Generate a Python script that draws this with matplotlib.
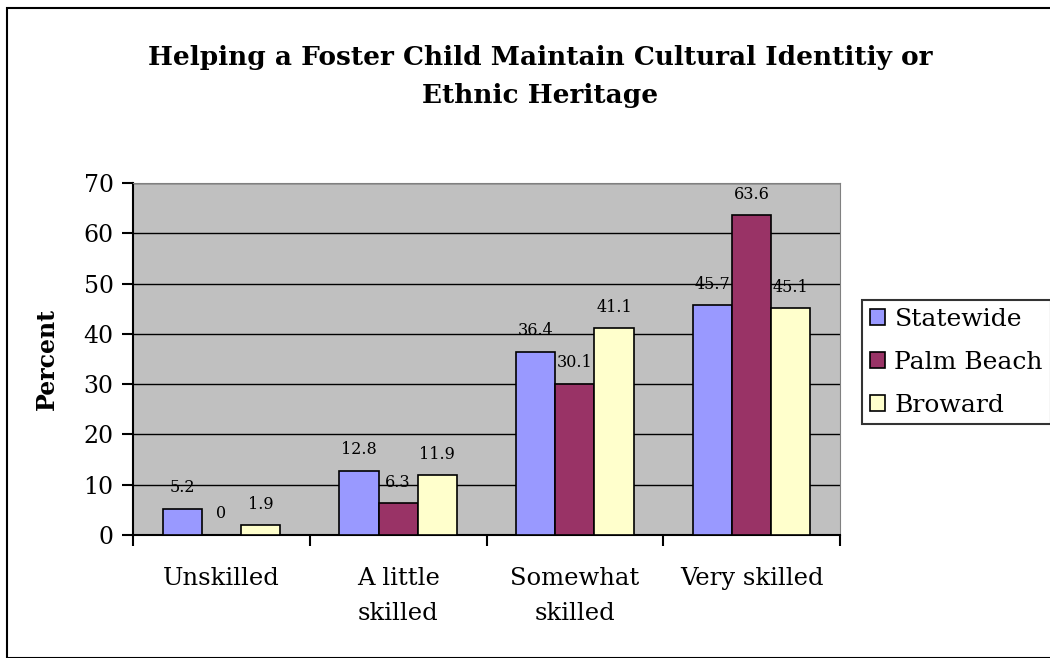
import matplotlib
matplotlib.use("Agg")
import matplotlib.pyplot as plt
import numpy as np
from matplotlib.patches import Rectangle

categories = ["Unskilled", "A little\nskilled", "Somewhat\nskilled", "Very skilled"]
series_names = ["Statewide", "Palm Beach", "Broward"]
statewide = [5.2, 12.8, 36.4, 45.7]
palm_beach = [0, 6.3, 30.1, 63.6]
broward = [1.9, 11.9, 41.1, 45.1]
colors = ["#9999FF", "#993366", "#FFFFCC"]

plt.rcParams['font.family'] = ['DejaVu Serif']

fig = plt.figure(figsize=(10.5, 6.58), dpi=100)
# outer frame of the chart
fig.patches.append(Rectangle((7/1050, 0), 1.0, 1 - 8/658, transform=fig.transFigure,
                             fill=False, edgecolor="black", linewidth=1.5))

ax = fig.add_axes([133/1050, 1 - 535/658, (840 - 133)/1050, (535 - 183)/658])
ax.set_facecolor("#C0C0C0")

x = np.arange(len(categories))
w = 0.222
for i, (vals, name) in enumerate(zip([statewide, palm_beach, broward], series_names)):
    pos = x + (i - 1) * w
    ax.bar(pos, vals, width=w, color=colors[i], edgecolor="black", linewidth=1.2,
           label=name, zorder=3)
    for p, v in zip(pos, vals):
        ax.annotate(f"{v:g}", (p, v), xytext=(0, 9), textcoords="offset points",
                    ha="center", va="bottom", fontsize=11.5, zorder=4)

ax.set_xlim(-0.5, len(categories) - 0.5)
ax.set_ylim(0, 70)
ax.set_yticks(range(0, 71, 10))
ax.yaxis.grid(True, color="black", linewidth=1)
ax.set_axisbelow(True)
ax.set_xticks(np.arange(-0.5, len(categories), 1))
ax.set_xticklabels([])
ax.set_xticks(x, minor=True)
ax.set_xticklabels(categories, minor=True, fontsize=17.5)
ax.tick_params(axis="x", which="minor", length=0, pad=23)
ax.tick_params(axis="x", which="major", length=8, width=1.5, direction="out")
ax.tick_params(axis="y", length=8, width=1.5, direction="out", labelsize=17, pad=6)
for lbl in ax.get_xticklabels(minor=True):
    lbl.set_linespacing(1.65)

ax.spines["left"].set_linewidth(1.5)
ax.spines["bottom"].set_linewidth(1.5)
ax.spines["top"].set_color("#808080")
ax.spines["right"].set_color("#808080")

ax.set_ylabel("Percent", fontsize=17, fontweight="bold", labelpad=18)

fig.text(540/1050, 1 - 77/658, "Helping a Foster Child Maintain Cultural Identitiy or\nEthnic Heritage",
         ha="center", va="center", fontsize=19, fontweight="bold", linespacing=1.65)

leg = ax.legend(loc="center left", bbox_to_anchor=(862/1050, 1 - 362/658),
                bbox_transform=fig.transFigure, fontsize=18, frameon=True, fancybox=False,
                handlelength=0.6, handleheight=0.6, handletextpad=0.4, borderpad=0.3,
                labelspacing=0.8, borderaxespad=0)
leg.get_frame().set_edgecolor("black")
leg.get_frame().set_linewidth(1.5)

fig.savefig("out.png", dpi=100)
